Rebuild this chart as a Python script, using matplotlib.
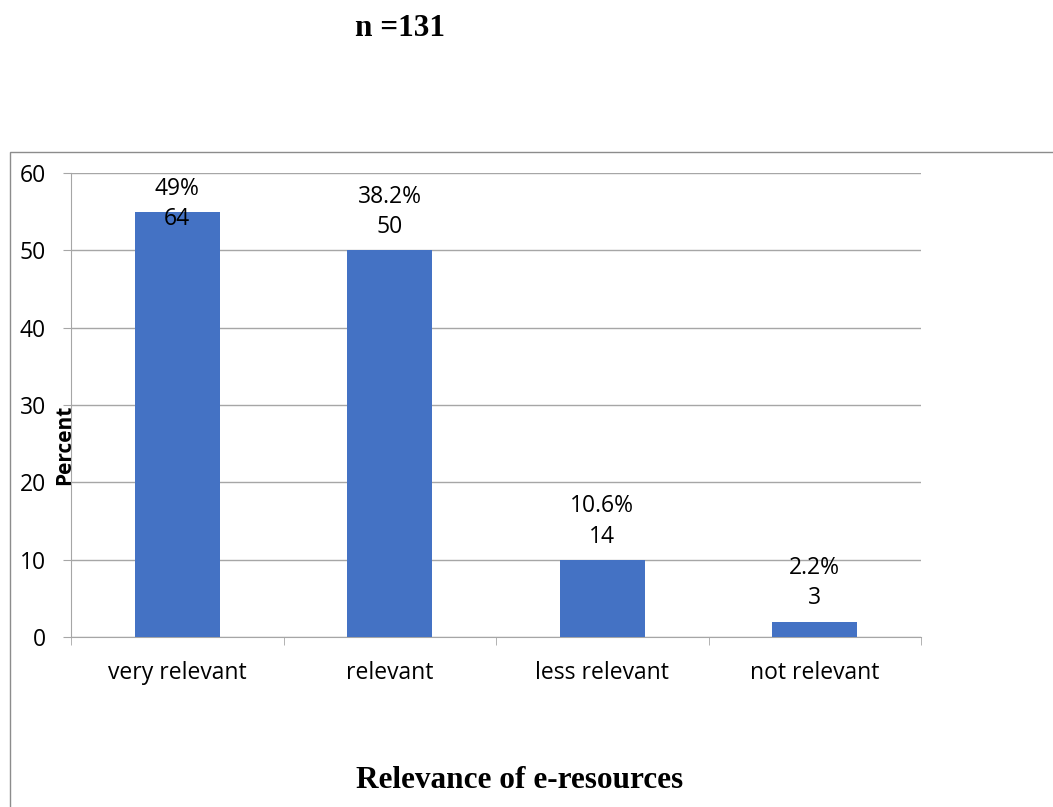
import numpy as np
import matplotlib.pyplot as plt
from matplotlib.patches import Rectangle

categories = ['very relevant', 'relevant', 'less relevant', 'not relevant']
percent_bar = [55, 50, 10, 2]
percent_label = ['49%', '38.2%', '10.6%', '2.2%']
counts = [64, 50, 14, 3]

grey = '#a6a6a6'
fs = 16.5
plt.rcParams['font.family'] = ['Open Sans', 'DejaVu Sans']

fig = plt.figure(figsize=(10.53, 8.07), dpi=100)
ax = fig.add_axes([71 / 1053, 1 - 637 / 807, 850 / 1053, 464 / 807])

x = np.arange(len(categories))
ax.bar(x, percent_bar, width=0.4, color='#4472c4', zorder=3)

ax.set_xlim(-0.5, len(categories) - 0.5)
ax.set_ylim(0, 60)
ax.set_yticks(np.arange(0, 61, 10))
ax.grid(axis='y', color=grey, linewidth=1.0, zorder=0)

# category ticks at boundaries, labels at centers
ax.set_xticks(x)
ax.set_xticklabels(categories)
ax.set_xticks(np.arange(-0.5, len(categories), 1), minor=True)
ax.tick_params(axis='x', which='major', length=0, pad=17, labelsize=fs)
ax.tick_params(axis='x', which='minor', length=6, color=grey, direction='out')
ax.tick_params(axis='y', length=6, color=grey, pad=12, labelsize=fs)

for s in ['top', 'right']:
    ax.spines[s].set_visible(False)
for s in ['left', 'bottom']:
    ax.spines[s].set_color(grey)

ax.set_ylabel('Percent', fontsize=15, fontweight='bold', va='center')
ax.yaxis.set_label_coords(-0.007, 0.414)

# data labels: percent above count
for xi, h, p, c in zip(x, percent_bar, percent_label, counts):
    if h + 7 > ax.get_ylim()[1]:
        ax.annotate(f'{p}\n{c}', (xi, ax.get_ylim()[1]), xytext=(0, -3),
                    textcoords='offset points', ha='center', va='top',
                    fontsize=fs, linespacing=1.35, zorder=4)
    else:
        ax.annotate(f'{p}\n{c}', (xi, h), xytext=(0, 8),
                    textcoords='offset points', ha='center', va='bottom',
                    fontsize=fs, linespacing=1.35, zorder=4)

# outer chart border
fig.patches.append(Rectangle((10 / 1053, -0.1), 1.2, 0.1 + 1 - 152 / 807,
                             transform=fig.transFigure, fill=False,
                             edgecolor='#8c8c8c', linewidth=1.0))

fig.text(400 / 1053, 1 - 28 / 807, 'n =131', ha='center', va='center',
         family='Liberation Serif', fontweight='bold', fontsize=22.5)
fig.text(520 / 1053, 1 - 781 / 807, 'Relevance of e-resources', ha='center',
         va='center', family='Liberation Serif', fontweight='bold', fontsize=22.5)

fig.savefig('out.png', dpi=100)
